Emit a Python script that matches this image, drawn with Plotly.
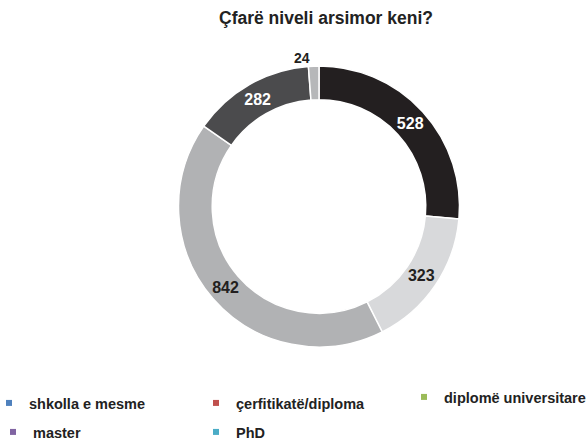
import plotly.graph_objects as go

title = "Çfarë niveli arsimor keni?"
categories = ["shkolla e mesme", "çerfitikatë/diploma", "diplomë universitare", "master", "PhD"]
values = [528, 323, 842, 282, 24]
slice_colors = ["#231F20", "#D8D9DB", "#B1B2B4", "#4B4B4D", "#B6B7B9"]
label_colors = ["#FFFFFF", "#231F20", "#231F20", "#FFFFFF", "#231F20"]
label_positions = ["inside", "inside", "inside", "inside", "outside"]
legend_colors = ["#4F81BD", "#C0504D", "#9BBB59", "#8064A2", "#4BACC6"]

FONT = "Liberation Sans, Arial, sans-serif"
W, H = 587, 441

fig = go.Figure()
fig.add_trace(go.Pie(
    values=values,
    labels=categories,
    sort=False,
    direction="clockwise",
    rotation=0,
    hole=0.76,
    marker=dict(colors=slice_colors, line=dict(color="white", width=1.5)),
    textinfo="value",
    textposition=label_positions,
    insidetextorientation="horizontal",
    textfont=dict(family=FONT, size=16, color=label_colors, weight="bold"),
    outsidetextfont=dict(family=FONT, size=14, color="#231F20", weight="bold"),
    domain=dict(x=[(319 - 141) / W, (319 + 141) / W], y=[1 - 347 / H, 1 - 66 / H]),
    showlegend=False,
))

# legend placement per entry (left px, center y px)
legend_pos = [(-11, 403), (196, 403), (404, 397), (-7, 432), (196, 432)]
for i, (name, col) in enumerate(zip(categories, legend_colors)):
    lid = "legend" if i == 0 else f"legend{i + 1}"
    fig.add_trace(go.Scatter(
        x=[None], y=[None], mode="markers", name=name,
        marker=dict(symbol="square", size=6, color=col),
        legend=lid, showlegend=True, hoverinfo="skip",
    ))
    lx, ly = legend_pos[i]
    fig.update_layout({lid: dict(
        x=lx / W, y=1 - ly / H, xanchor="left", yanchor="middle",
        font=dict(family=FONT, size=14.5, color="#222222", weight="bold"),
        bgcolor="rgba(0,0,0,0)", borderwidth=0,
    )})

fig.update_layout(
    width=W, height=H, autosize=False,
    margin=dict(l=0, r=0, t=0, b=0, autoexpand=False),
    paper_bgcolor="white", plot_bgcolor="white",
    title=dict(text=f"<b>{title}</b>", x=326 / W, xanchor="center", y=1 - 18 / H, yanchor="middle",
               font=dict(family=FONT, size=17.5, color="#222222")),
    xaxis=dict(visible=False), yaxis=dict(visible=False),
)

fig.write_html("out.html", config={"displayModeBar": False},
               post_script="document.body.style.margin='0px';document.body.style.overflow='hidden';")
